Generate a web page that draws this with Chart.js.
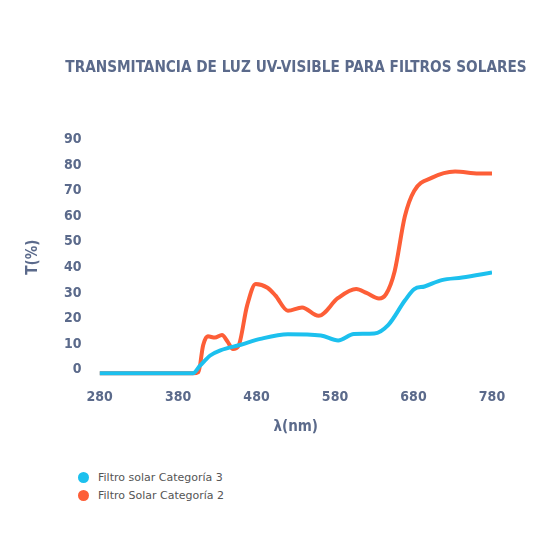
<!DOCTYPE html>
<html><head><meta charset="utf-8">
<script src="https://cdn.jsdelivr.net/npm/chart.js@4"></script>
<style>
body{margin:0;background:#fff;font-family:"DejaVu Sans",sans-serif;}
#wrap{position:relative;width:560px;height:440px;}
#title{position:absolute;left:0;width:592px;top:58px;text-align:center;font-family:"DejaVu Sans Condensed",sans-serif;font-weight:bold;font-size:15.2px;color:#5b6a8b;}
#legend{position:absolute;left:78px;top:468px;font-size:11px;color:#555;}
#legend div{display:flex;align-items:center;height:18px;}
#legend span.dot{display:inline-block;width:11px;height:11px;border-radius:50%;margin-right:9px;}
</style></head><body>
<div id="wrap"><canvas id="c" width="560" height="440"></canvas></div>
<div id="title"></div>
<div id="legend"></div>
<script>
const chartTitle = "TRANSMITANCIA DE LUZ UV-VISIBLE PARA FILTROS SOLARES";
const seriesNames = ["Filtro solar Categoría 3", "Filtro Solar Categoría 2"];
const xTicks = [280, 380, 480, 580, 680, 780];
const yTicks = [0, 10, 20, 30, 40, 50, 60, 70, 80, 90];
const blueX = [280, 330, 380, 399, 408, 421, 434, 460, 485, 520, 562, 584, 604, 630, 648, 669, 681, 694, 716, 742, 780];
const blueY = [-1.5, -1.5, -1.5, -1.5, 1.5, 5.5, 7.5, 9.7, 12, 13.8, 13.3, 11.4, 13.9, 14.1, 17.5, 27, 31.5, 32.5, 35, 36, 38];
const orangeX = [280, 330, 380, 399, 406, 412, 418, 427, 436, 443, 450, 457, 468, 479, 494, 504, 520, 538, 559, 584, 607, 620, 636, 645, 656, 669, 681, 703, 733, 763, 780];
const orangeY = [-1.5, -1.5, -1.5, -1.5, -1, 9.5, 13, 12.5, 13.5, 11, 8, 9.2, 25, 33.5, 32, 29, 23, 24.3, 21, 28, 31.5, 30, 27.8, 29.5, 38.5, 60, 70, 75, 77.5, 76.7, 76.7];
const colors = ["#1cc0ee", "#fd5e37"];
const pts = (xs, ys) => xs.map((x, i) => ({x: x, y: ys[i]}));
const font = "'DejaVu Sans Condensed', 'DejaVu Sans', sans-serif";
const slate = "#5b6a8b";
document.getElementById('title').textContent = chartTitle;
const chart = new Chart(document.getElementById('c'), {
  type: 'line',
  data: { datasets: [
    { label: seriesNames[0], data: pts(blueX, blueY), borderColor: colors[0], backgroundColor: colors[0], borderWidth: 4, pointRadius: 0, cubicInterpolationMode: 'monotone' },
    { label: seriesNames[1], data: pts(orangeX, orangeY), borderColor: colors[1], backgroundColor: colors[1], borderWidth: 4, pointRadius: 0, cubicInterpolationMode: 'monotone' }
  ]},
  options: {
    responsive: false, animation: false,
    layout: { padding: { left: 20, right: 68, top: 137, bottom: 0 } },
    plugins: { legend: { display: false }, tooltip: { enabled: false }, title: { display: false } },
    scales: {
      x: { type: 'linear', min: 280, max: 780, grid: { display: false }, border: { display: false },
        afterBuildTicks: s => { s.ticks = xTicks.map(v => ({value: v})); },
        ticks: { color: slate, font: { family: font, size: 14, weight: 'bold' }, padding: 4, maxRotation: 0 },
        title: { display: true, text: 'λ(nm)', color: slate, font: { family: font, size: 15, weight: 'bold' }, padding: { top: 8 } } },
      y: { min: -3, max: 91, grid: { display: false }, border: { display: false },
        afterBuildTicks: s => { s.ticks = yTicks.map(v => ({value: v})); },
        ticks: { color: slate, font: { family: font, size: 14, weight: 'bold' }, padding: 10 },
        title: { display: true, text: 'T(%)', color: slate, font: { family: font, size: 15, weight: 'bold' }, padding: { bottom: 12 } } }
    }
  }
});
const lg = document.getElementById('legend');
chart.data.datasets.forEach(d => {
  const row = document.createElement('div');
  row.innerHTML = '<span class="dot" style="background:' + d.borderColor + '"></span>' + d.label;
  lg.appendChild(row);
});
</script></body></html>
